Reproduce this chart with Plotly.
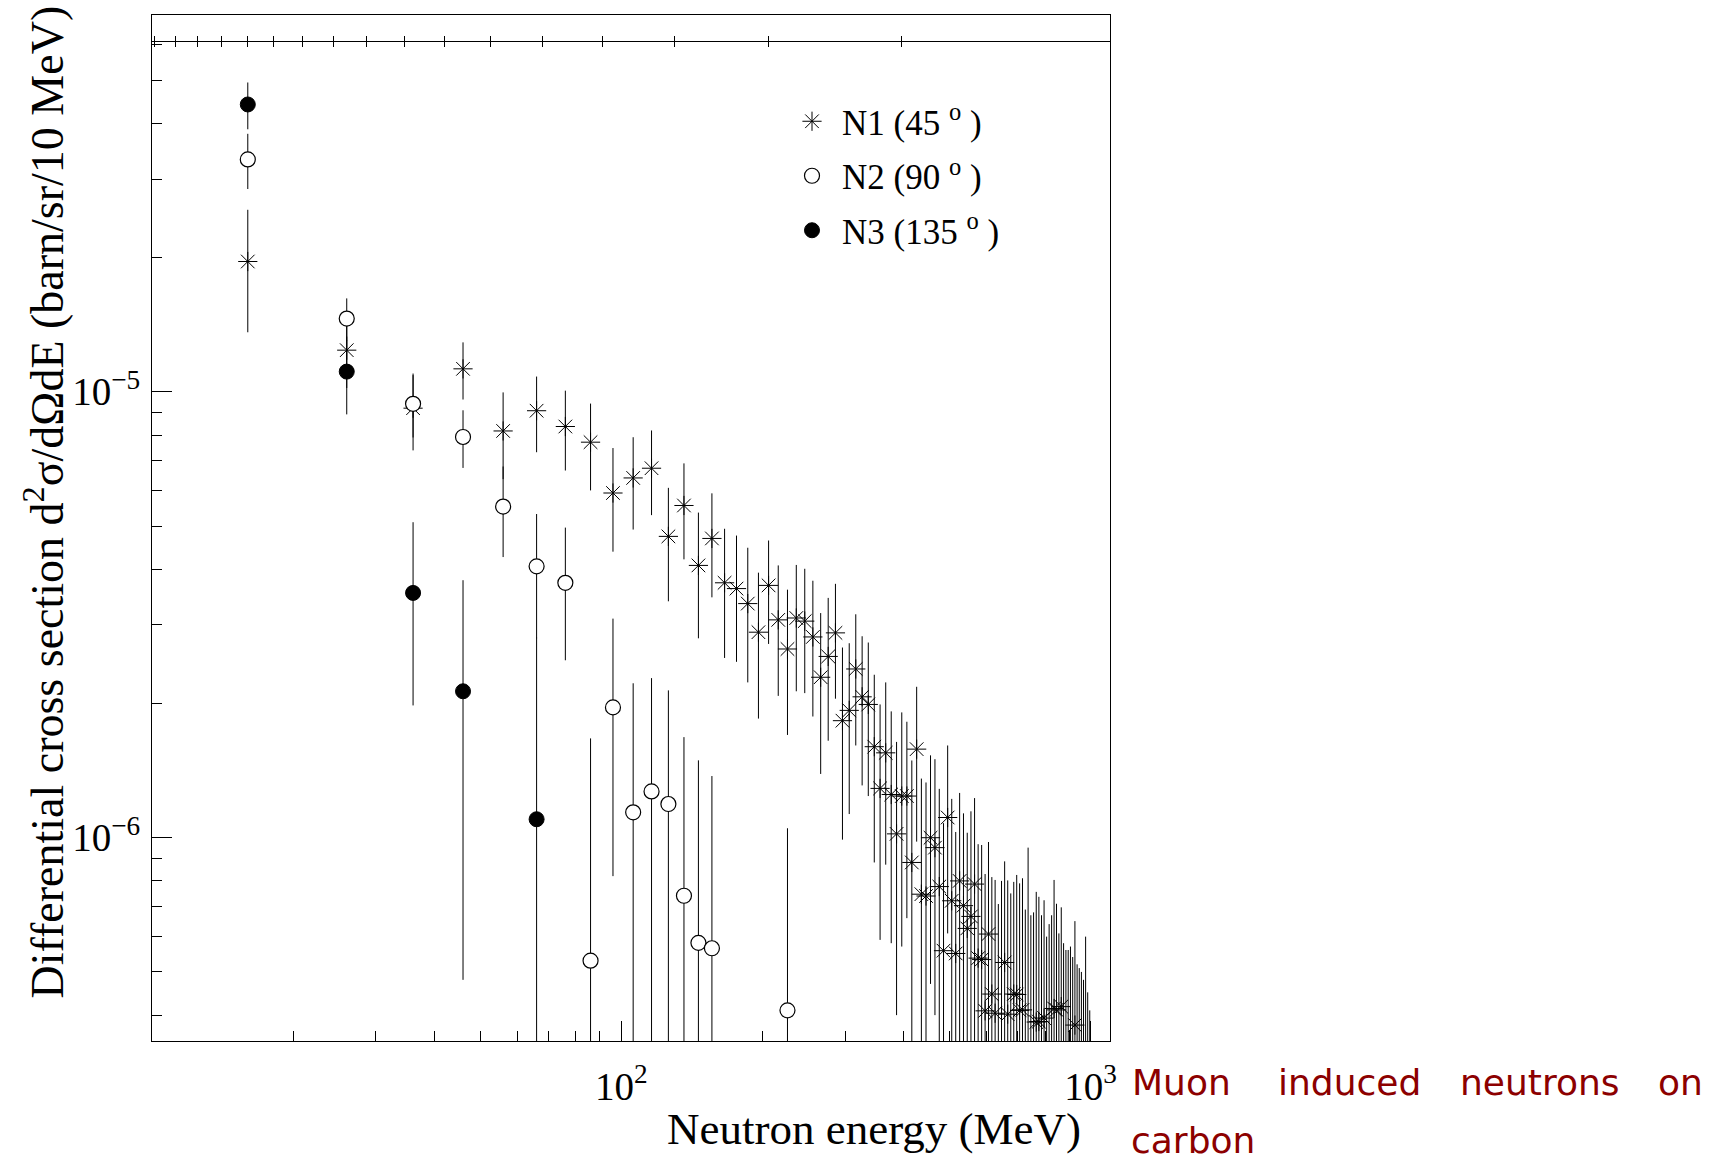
import plotly.graph_objects as go
import math

# ---------------- data ----------------
# N1 (45 deg): 10 MeV bins
e1 = [16, 26, 36, 46, 56, 66, 76, 86, 96, 106, 116, 126, 136, 146, 156, 166, 176, 186, 196, 206,
      216, 226, 236, 246, 256, 266, 276, 286, 296, 306, 316, 326, 336, 346, 356, 366, 376, 386, 396, 406,
      416, 426, 436, 446, 456, 466, 476, 486, 496, 506, 516, 526, 536, 546, 556, 566, 576, 586, 596, 606,
      616, 626, 636, 646, 656, 666, 676, 686, 696, 706, 716, 726, 736, 746, 756, 766, 776, 786, 796, 806,
      816, 826, 836, 846, 856, 866, 876, 886, 896, 906, 916, 926, 936, 946, 956, 966, 976, 986, 996]
v1 = [1.96e-5, 1.24e-5, 9.19e-6, 1.126e-5, 8.17e-6, 9.07e-6, 8.36e-6, 7.71e-6, 5.93e-6, 6.41e-6,
      6.74e-6, 4.74e-6, 5.56e-6, 4.08e-6, 4.69e-6, 3.73e-6, 3.62e-6, 3.35e-6, 2.89e-6, 3.68e-6,
      3.08e-6, 2.65e-6, 3.11e-6, 3.06e-6, 2.82e-6, 2.29e-6, 2.55e-6, 2.88e-6, 1.83e-6, 1.93e-6,
      2.39e-6, 2.07e-6, 1.99e-6, 1.60e-6, 1.29e-6, 1.55e-6, 1.25e-6, 1.02e-6, 1.24e-6, 1.24e-6,
      8.8e-7, 1.58e-6, 7.47e-7, 7.4e-7, 1.0e-6, 9.5e-7, 7.77e-7, 5.58e-7, 1.11e-6, 7.22e-7,
      5.5e-7, 8.0e-7, 7.04e-7, 6.26e-7, 6.66e-7, 7.87e-7, 5.37e-7, 5.33e-7, 4.09e-7, 6.08e-7,
      4.46e-7, 4.04e-7, 2.6e-7, 3.0e-7, 5.25e-7, 4.02e-7, 2.5e-7, 4.46e-7, 4.45e-7, 4.1e-7,
      4.11e-7, 2.4e-7, 3.0e-7, 2.2e-7, 2.8e-7, 3.86e-7, 3.87e-7, 2.5e-7, 3.94e-7, 2.0e-7,
      2.6e-7, 2.2e-7, 4.14e-7, 4.11e-7, 2.3e-7, 4.18e-7, 2.5e-7, 2.0e-7, 2.6e-7, 2.2e-7,
      2.4e-7, 3.8e-7, 2.0e-7, 2.3e-7, 2.0e-7, 2.2e-7, 1.8e-7, 2.0e-7, 1.5e-7]
err1 = [6.0e-6, 2.2e-6, 1.8e-6, 1.65e-6, 1.8e-6, 1.75e-6, 1.7e-6, 1.7e-6, 1.55e-6, 1.5e-6,
        1.45e-6, 1.35e-6, 1.35e-6, 1.28e-6, 1.23e-6, 1.2e-6, 1.14e-6, 1.12e-6, 1.04e-6, 0.96e-6,
        1.0e-6, 0.95e-6, 0.98e-6, 0.95e-6, 0.95e-6, 0.9e-6, 0.9e-6, 0.83e-6, 0.84e-6, 0.8e-6,
        0.78e-6, 0.76e-6, 0.75e-6, 0.72e-6, 0.7e-6, 0.68e-6, 0.67e-6, 0.62e-6, 0.67e-6, 0.58e-6,
        0.61e-6, 0.6e-6, 0.61e-6, 0.59e-6, 0.53e-6, 0.55e-6, 0.51e-6, 0.52e-6, 0.5e-6, 0.5e-6,
        0.48e-6, 0.46e-6, 0.43e-6, 0.4e-6, 0.48e-6, 0.44e-6, 0.43e-6, 0.43e-6, 0.42e-6, 0.37e-6,
        0.37e-6, 0.4e-6, 0.45e-6, 0.5e-6, 0.36e-6, 0.4e-6, 0.5e-6, 0.35e-6, 0.38e-6, 0.38e-6,
        0.4e-6, 0.45e-6, 0.65e-6, 0.45e-6, 0.4e-6, 0.37e-6, 0.35e-6, 0.42e-6, 0.33e-6, 0.4e-6,
        0.38e-6, 0.45e-6, 0.39e-6, 0.3e-6, 0.38e-6, 0.28e-6, 0.33e-6, 0.36e-6, 0.3e-6, 0.35e-6,
        0.3e-6, 0.27e-6, 0.32e-6, 0.28e-6, 0.3e-6, 0.26e-6, 0.42e-6, 0.25e-6, 0.26e-6]

# N2 (90 deg)
e2 = [16, 26, 36, 46, 56, 66, 76, 86, 96, 106, 116, 126, 136, 146, 156, 226]
v2 = [3.32e-5, 1.46e-5, 9.4e-6, 7.92e-6, 5.53e-6, 4.06e-6, 3.73e-6, 5.3e-7, 1.96e-6, 1.14e-6,
      1.27e-6, 1.19e-6, 7.41e-7, 5.81e-7, 5.65e-7, 4.1e-7]
err2 = [4.7e-6, 1.6e-6, 1.5e-6, 1.17e-6, 1.27e-6, 1.26e-6, 1.23e-6, 1.14e-6, 1.14e-6, 1.08e-6,
        1.01e-6, 0.95e-6, 0.94e-6, 0.91e-6, 0.81e-6, 0.64e-6]

# N3 (135 deg)
e3 = [16, 26, 36, 46, 66]
v3 = [4.41e-5, 1.11e-5, 3.54e-6, 2.13e-6, 1.10e-6]
err3 = [5.3e-6, 2.2e-6, 1.56e-6, 1.65e-6, 1.71e-6]

NB = "\u00a0"
legend_names = ["N1 (45" + NB + "<sup>o</sup>" + NB + ")",
                "N2 (90" + NB + "<sup>o</sup>" + NB + ")",
                "N3 (135" + NB + "<sup>o</sup>" + NB + ")"]

x_range = [10, 1100]
y_range = [3.5e-7, 7e-5]
x_major = [100, 1000]
x_major_text = ["10<sup>2</sup>", "10<sup>3</sup>"]
x_minor = [20, 30, 40, 50, 60, 70, 80, 90, 200, 300, 400, 500, 600, 700, 800, 900]
y_major = [1e-6, 1e-5]
y_major_text = ["10<sup>\u22126</sup>", "10<sup>\u22125</sup>"]
y_minor = [4e-7, 5e-7, 6e-7, 7e-7, 8e-7, 9e-7, 2e-6, 3e-6, 4e-6, 5e-6, 6e-6, 7e-6, 8e-6, 9e-6,
           2e-5, 3e-5, 4e-5, 5e-5, 6e-5, 7e-5]
# ticks of the auxiliary (time-of-flight like) scale drawn on the line near the top
top_ticks = [10.12, 11.23, 12.53, 14.08, 15.96, 18.18, 20.93, 24.37, 28.66, 34.52, 41.97, 52.76,
             67.95, 91.36, 130.1, 206.3, 395.2]

x_title = "Neutron energy (MeV)"
y_title = "Differential cross section d<sup>2</sup>\u03c3/d\u03a9dE (barn/sr/10 MeV)"
side_words_line1 = ["Muon", "induced", "neutrons", "on"]
side_words_line2 = ["carbon"]

# ---------------- figure ----------------
W, H = 1712, 1160
L, R, T, B = 152, 1110, 15, 1041
PW, PH = R - L, B - T


def px(xp):
    return (xp - L) / PW


def py(yp):
    return (B - yp) / PH


SERIF = "Liberation Serif"
fig = go.Figure()

err_style = dict(type="data", symmetric=True, color="black", thickness=1, width=0)

fig.add_trace(go.Scatter(
    x=e1, y=v1, mode="markers", name=legend_names[0], legendgroup="a",
    error_y=dict(array=err1, **err_style),
    marker=dict(symbol="asterisk-open", size=16, color="black",
                line=dict(color="black", width=1))))
fig.add_trace(go.Scatter(
    x=e2, y=v2, mode="markers", name=legend_names[1], legendgroup="b",
    error_y=dict(array=err2, **err_style),
    marker=dict(symbol="circle", size=15, color="white",
                line=dict(color="black", width=1.2))))
fig.add_trace(go.Scatter(
    x=e3, y=v3, mode="markers", name=legend_names[2], legendgroup="c",
    error_y=dict(array=err3, **err_style),
    marker=dict(symbol="circle", size=15, color="black",
                line=dict(color="black", width=1))))

# dummy traces so the auxiliary axes are drawn
fig.add_trace(go.Scatter(x=[], y=[], xaxis="x2", yaxis="y", showlegend=False, hoverinfo="skip"))
fig.add_trace(go.Scatter(x=[], y=[], xaxis="x3", yaxis="y", showlegend=False, hoverinfo="skip"))

lx = [math.log10(v) for v in x_range]
ly = [math.log10(v) for v in y_range]

tick_font = dict(family=SERIF, size=39, color="black")

fig.update_layout(
    width=W, height=H,
    margin=dict(l=L, r=W - R, t=T, b=H - B, pad=0),
    paper_bgcolor="white", plot_bgcolor="white",
    showlegend=True,
    legend=dict(x=px(782), y=py(92), xanchor="left", yanchor="top",
                font=dict(family=SERIF, size=35, color="black"),
                bgcolor="rgba(0,0,0,0)", borderwidth=0,
                traceorder="grouped", tracegroupgap=6, itemwidth=50),
    xaxis=dict(type="log", range=lx, tickmode="array", tickvals=x_major, ticktext=x_major_text,
               ticks="inside", ticklen=20, tickwidth=1, tickcolor="black",
               showline=True, linecolor="black", linewidth=1, mirror=True,
               showgrid=False, zeroline=False, tickfont=tick_font, ticklabelstandoff=11,
               minor=dict(tickmode="array", tickvals=x_minor, ticks="inside", ticklen=10,
                          tickwidth=1, tickcolor="black", showgrid=False)),
    yaxis=dict(type="log", range=ly, tickmode="array", tickvals=y_major, ticktext=y_major_text,
               ticks="inside", ticklen=20, tickwidth=1, tickcolor="black",
               showline=True, linecolor="black", linewidth=1, mirror=True,
               showgrid=False, zeroline=False, tickfont=tick_font, ticklabelstandoff=3,
               minor=dict(tickmode="array", tickvals=y_minor, ticks="inside", ticklen=10,
                          tickwidth=1, tickcolor="black", showgrid=False)),
    xaxis2=dict(type="log", range=lx, overlaying="x", anchor="free", position=py(40.5),
                side="bottom", tickmode="array", tickvals=top_ticks, ticks="outside",
                ticklen=5, tickwidth=1, tickcolor="black", showticklabels=False,
                showline=True, linecolor="black", linewidth=1, showgrid=False, zeroline=False),
    xaxis3=dict(type="log", range=lx, overlaying="x", anchor="free", position=py(40.5),
                side="top", tickmode="array", tickvals=top_ticks, ticks="outside",
                ticklen=5, tickwidth=1, tickcolor="black", showticklabels=False,
                showline=False, showgrid=False, zeroline=False),
)

annotations = [
    dict(text=x_title, xref="paper", yref="paper", x=px(1083), y=py(1129),
         xanchor="right", yanchor="middle", showarrow=False,
         font=dict(family=SERIF, size=45, color="black")),
    dict(text=y_title, xref="paper", yref="paper", x=px(44), y=py(4),
         xanchor="center", yanchor="top", textangle=-90, showarrow=False,
         font=dict(family=SERIF, size=46, color="black")),
]

red = "#8c0000"
side_font = dict(family="DejaVu Sans", size=36, color=red)
word_left = [1130, 1276, 1458, None]
for w, xl in zip(side_words_line1, word_left):
    if xl is None:
        annotations.append(dict(text=w, xref="paper", yref="paper", x=px(1705), y=py(1082),
                                xanchor="right", yanchor="middle", showarrow=False, font=side_font))
    else:
        annotations.append(dict(text=w, xref="paper", yref="paper", x=px(xl), y=py(1082),
                                xanchor="left", yanchor="middle", showarrow=False, font=side_font))
annotations.append(dict(text=side_words_line2[0], xref="paper", yref="paper", x=px(1129), y=py(1140),
                        xanchor="left", yanchor="middle", showarrow=False, font=side_font))

fig.update_layout(annotations=annotations)

fig.write_html("out.html")
